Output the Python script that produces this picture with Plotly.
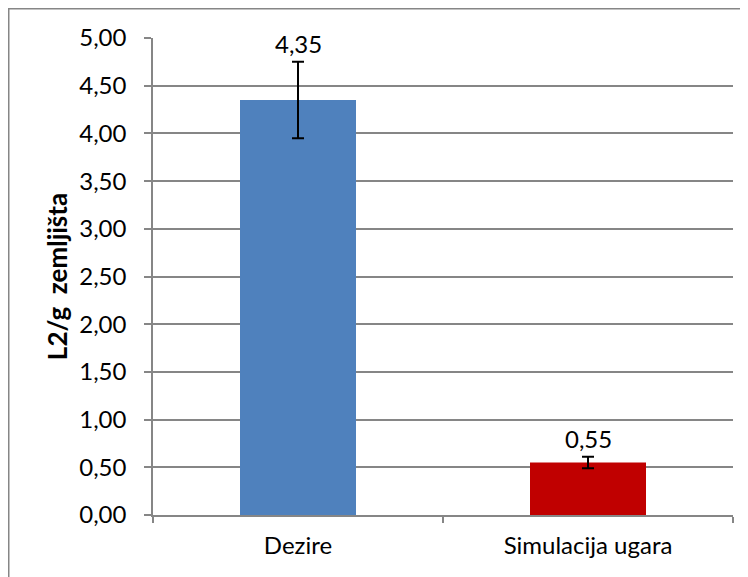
import plotly.graph_objects as go

categories = ["Dezire", "Simulacija ugara"]
values = [4.35, 0.55]
errors = [0.40, 0.06]
bar_colors = ["#4F81BD", "#C00000"]
value_labels = ["4,35", "0,55"]
y_tick_vals = [0, 0.5, 1, 1.5, 2, 2.5, 3, 3.5, 4, 4.5, 5]
y_tick_text = ["0,00", "0,50", "1,00", "1,50", "2,00", "2,50", "3,00", "3,50", "4,00", "4,50", "5,00"]

FONT = "Lato"
FS = 24
grey = "#868686"

fig = go.Figure()
fig.add_trace(go.Bar(
    x=categories, y=values,
    marker=dict(color=bar_colors, line=dict(width=0)),
    width=0.4,
    error_y=dict(type="data", array=errors, visible=True, color="black", thickness=2, width=6),
))

for c, v, e, t in zip(categories, values, errors, value_labels):
    fig.add_annotation(x=c, y=v + e, text=t, showarrow=False, yanchor="bottom",
                       yshift=2, font=dict(family=FONT, size=FS, color="black"))

W, H = 748, 577
L, T = 145, 30
pw, ph = 580, 477
R = W - L - pw
B = H - T - ph

def px_x(p):
    return (p - L) / pw

def px_y(p):
    return (T + ph - p) / ph

fig.add_shape(type="rect", xref="paper", yref="paper",
              x0=px_x(0.75), x1=px_x(800), y0=px_y(650), y1=px_y(0.75),
              line=dict(color=grey, width=1.5), fillcolor="rgba(0,0,0,0)", layer="below")

fig.update_layout(
    width=W, height=H,
    margin=dict(l=L, r=R, t=T, b=B),
    paper_bgcolor="white", plot_bgcolor="white",
    showlegend=False,
    font=dict(family=FONT, size=FS, color="black"),
    xaxis=dict(
        showline=True, linecolor=grey, linewidth=1.5,
        ticks="outside", ticklen=6, tickcolor=grey, tickwidth=1.5,
        tickson="boundaries",
        showgrid=False,
        ticklabelstandoff=8,
        tickfont=dict(family=FONT, size=FS, color="black"),
        range=[-0.5, 1.5],
    ),
    yaxis=dict(
        range=[0, 5], tickvals=y_tick_vals, ticktext=y_tick_text,
        showline=True, linecolor=grey, linewidth=1.5,
        ticks="outside", ticklen=7, tickcolor=grey, tickwidth=1.5,
        showgrid=True, gridcolor=grey, gridwidth=1.5,
        zeroline=False,
        ticklabelstandoff=13,
        tickfont=dict(family=FONT, size=FS, color="black"),
        title=dict(text="<b>L2/g  zemljišta</b>", font=dict(family=FONT, size=26, color="black"), standoff=4),
    ),
)

fig.write_html("out.html")
